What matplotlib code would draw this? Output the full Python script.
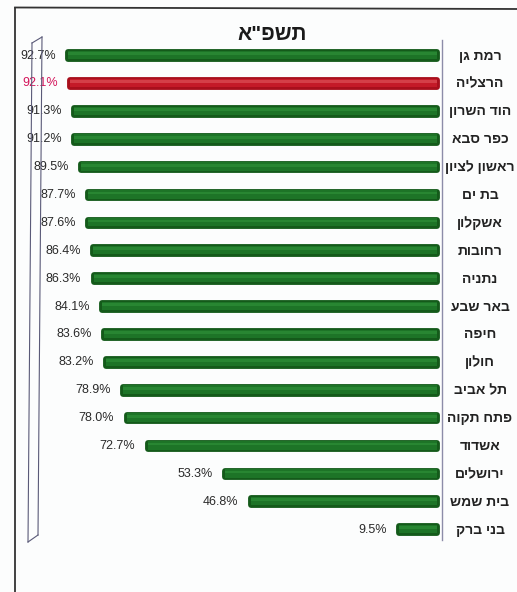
import matplotlib
matplotlib.use("Agg")
import matplotlib.pyplot as plt
from matplotlib.lines import Line2D
from matplotlib.transforms import blended_transform_factory

cities = ["רמת גן", "הרצליה", "הוד השרון", "כפר סבא", "ראשון לציון", "בת ים",
          "אשקלון", "רחובות", "נתניה", "באר שבע", "חיפה", "חולון", "תל אביב",
          "פתח תקוה", "אשדוד", "ירושלים", "בית שמש", "בני ברק"]
values = [92.7, 92.1, 91.3, 91.2, 89.5, 87.7, 87.6, 86.4, 86.3, 84.1, 83.6,
          83.2, 78.9, 78.0, 72.7, 53.3, 46.8, 9.5]
highlight = "הרצליה"
title = 'תשפ"א'


def vis(s):
    # matplotlib has no bidi support: reverse Hebrew for visual order
    return s[::-1]


W, H = 517, 592
fig = plt.figure(figsize=(W / 100, H / 100), dpi=100)
fig.patch.set_facecolor("#fcfdfd")

L, R, T, B = 39, 442, 40, 540
ax = fig.add_axes([L / W, (H - B) / H, (R - L) / W, (B - T) / H])
ax.set_facecolor("none")

ypos = list(range(len(cities)))
dark = ["#a80f1c" if c == highlight else "#145a1a" for c in cities]
mid = ["#c41a28" if c == highlight else "#1d7427" for c in cities]
light = ["#d43f48" if c == highlight else "#288632" for c in cities]

ax.barh(ypos, values, height=0.24, color=dark, edgecolor=dark,
        linewidth=4.2, joinstyle="round", zorder=2)
ax.barh([y - 0.02 for y in ypos], values, height=0.3, color=mid,
        linewidth=0, zorder=3)
ax.barh([y - 0.07 for y in ypos], values, height=0.1, color=light,
        linewidth=0, zorder=4)

ax.set_xlim(100, -1.26)
ax.set_ylim(17.37, -0.556)
ax.set_xticks([])
ax.set_yticks([])
for s in ["top", "left", "bottom"]:
    ax.spines[s].set_visible(False)
ax.spines["right"].set_color("#8c8ca8")
ax.spines["right"].set_linewidth(1.0)

for y, v, c in zip(ypos, values, cities):
    col = "#d4145a" if c == highlight else "#2a2a2a"
    ax.annotate(f"{v:.1f}%", xy=(v, y), xytext=(-8.8, 0),
                textcoords="offset points", ha="right", va="center",
                fontsize=9, color=col,
                family=["Liberation Sans", "DejaVu Sans"], zorder=5)

tr = blended_transform_factory(ax.transAxes, ax.transData)
for y, c in zip(ypos, cities):
    ax.text((480 - L) / (R - L), y, vis(c), transform=tr, ha="center",
            va="center", fontsize=10, fontweight="bold", color="#222222",
            family=["Liberation Sans", "DejaVu Sans"])

fig.text(272 / W, 1 - 34 / H, vis(title), ha="center", va="center",
         fontsize=15, fontweight="bold", color="#1a1a1a",
         family=["Liberation Sans", "DejaVu Sans"])

# 3D back wall outline
wall = "#5a5a78"
pts = [((32, 43), (28, 542)), ((42, 37), (38, 535)),
       ((32, 43), (42, 37)), ((28, 542), (38, 535))]
for (x0, y0), (x1, y1) in pts:
    fig.add_artist(Line2D([x0 / W, x1 / W], [1 - y0 / H, 1 - y1 / H],
                          transform=fig.transFigure, color=wall, lw=0.8))

# outer frame
fig.add_artist(Line2D([15 / W, 15 / W], [0, 1 - 8 / H],
                      transform=fig.transFigure, color="#333333", lw=1.3))
fig.add_artist(Line2D([15 / W, 1], [1 - 7.5 / H, 1 - 9 / H],
                      transform=fig.transFigure, color="#333333", lw=1.3))

fig.savefig("out.png", dpi=100, facecolor=fig.get_facecolor())
